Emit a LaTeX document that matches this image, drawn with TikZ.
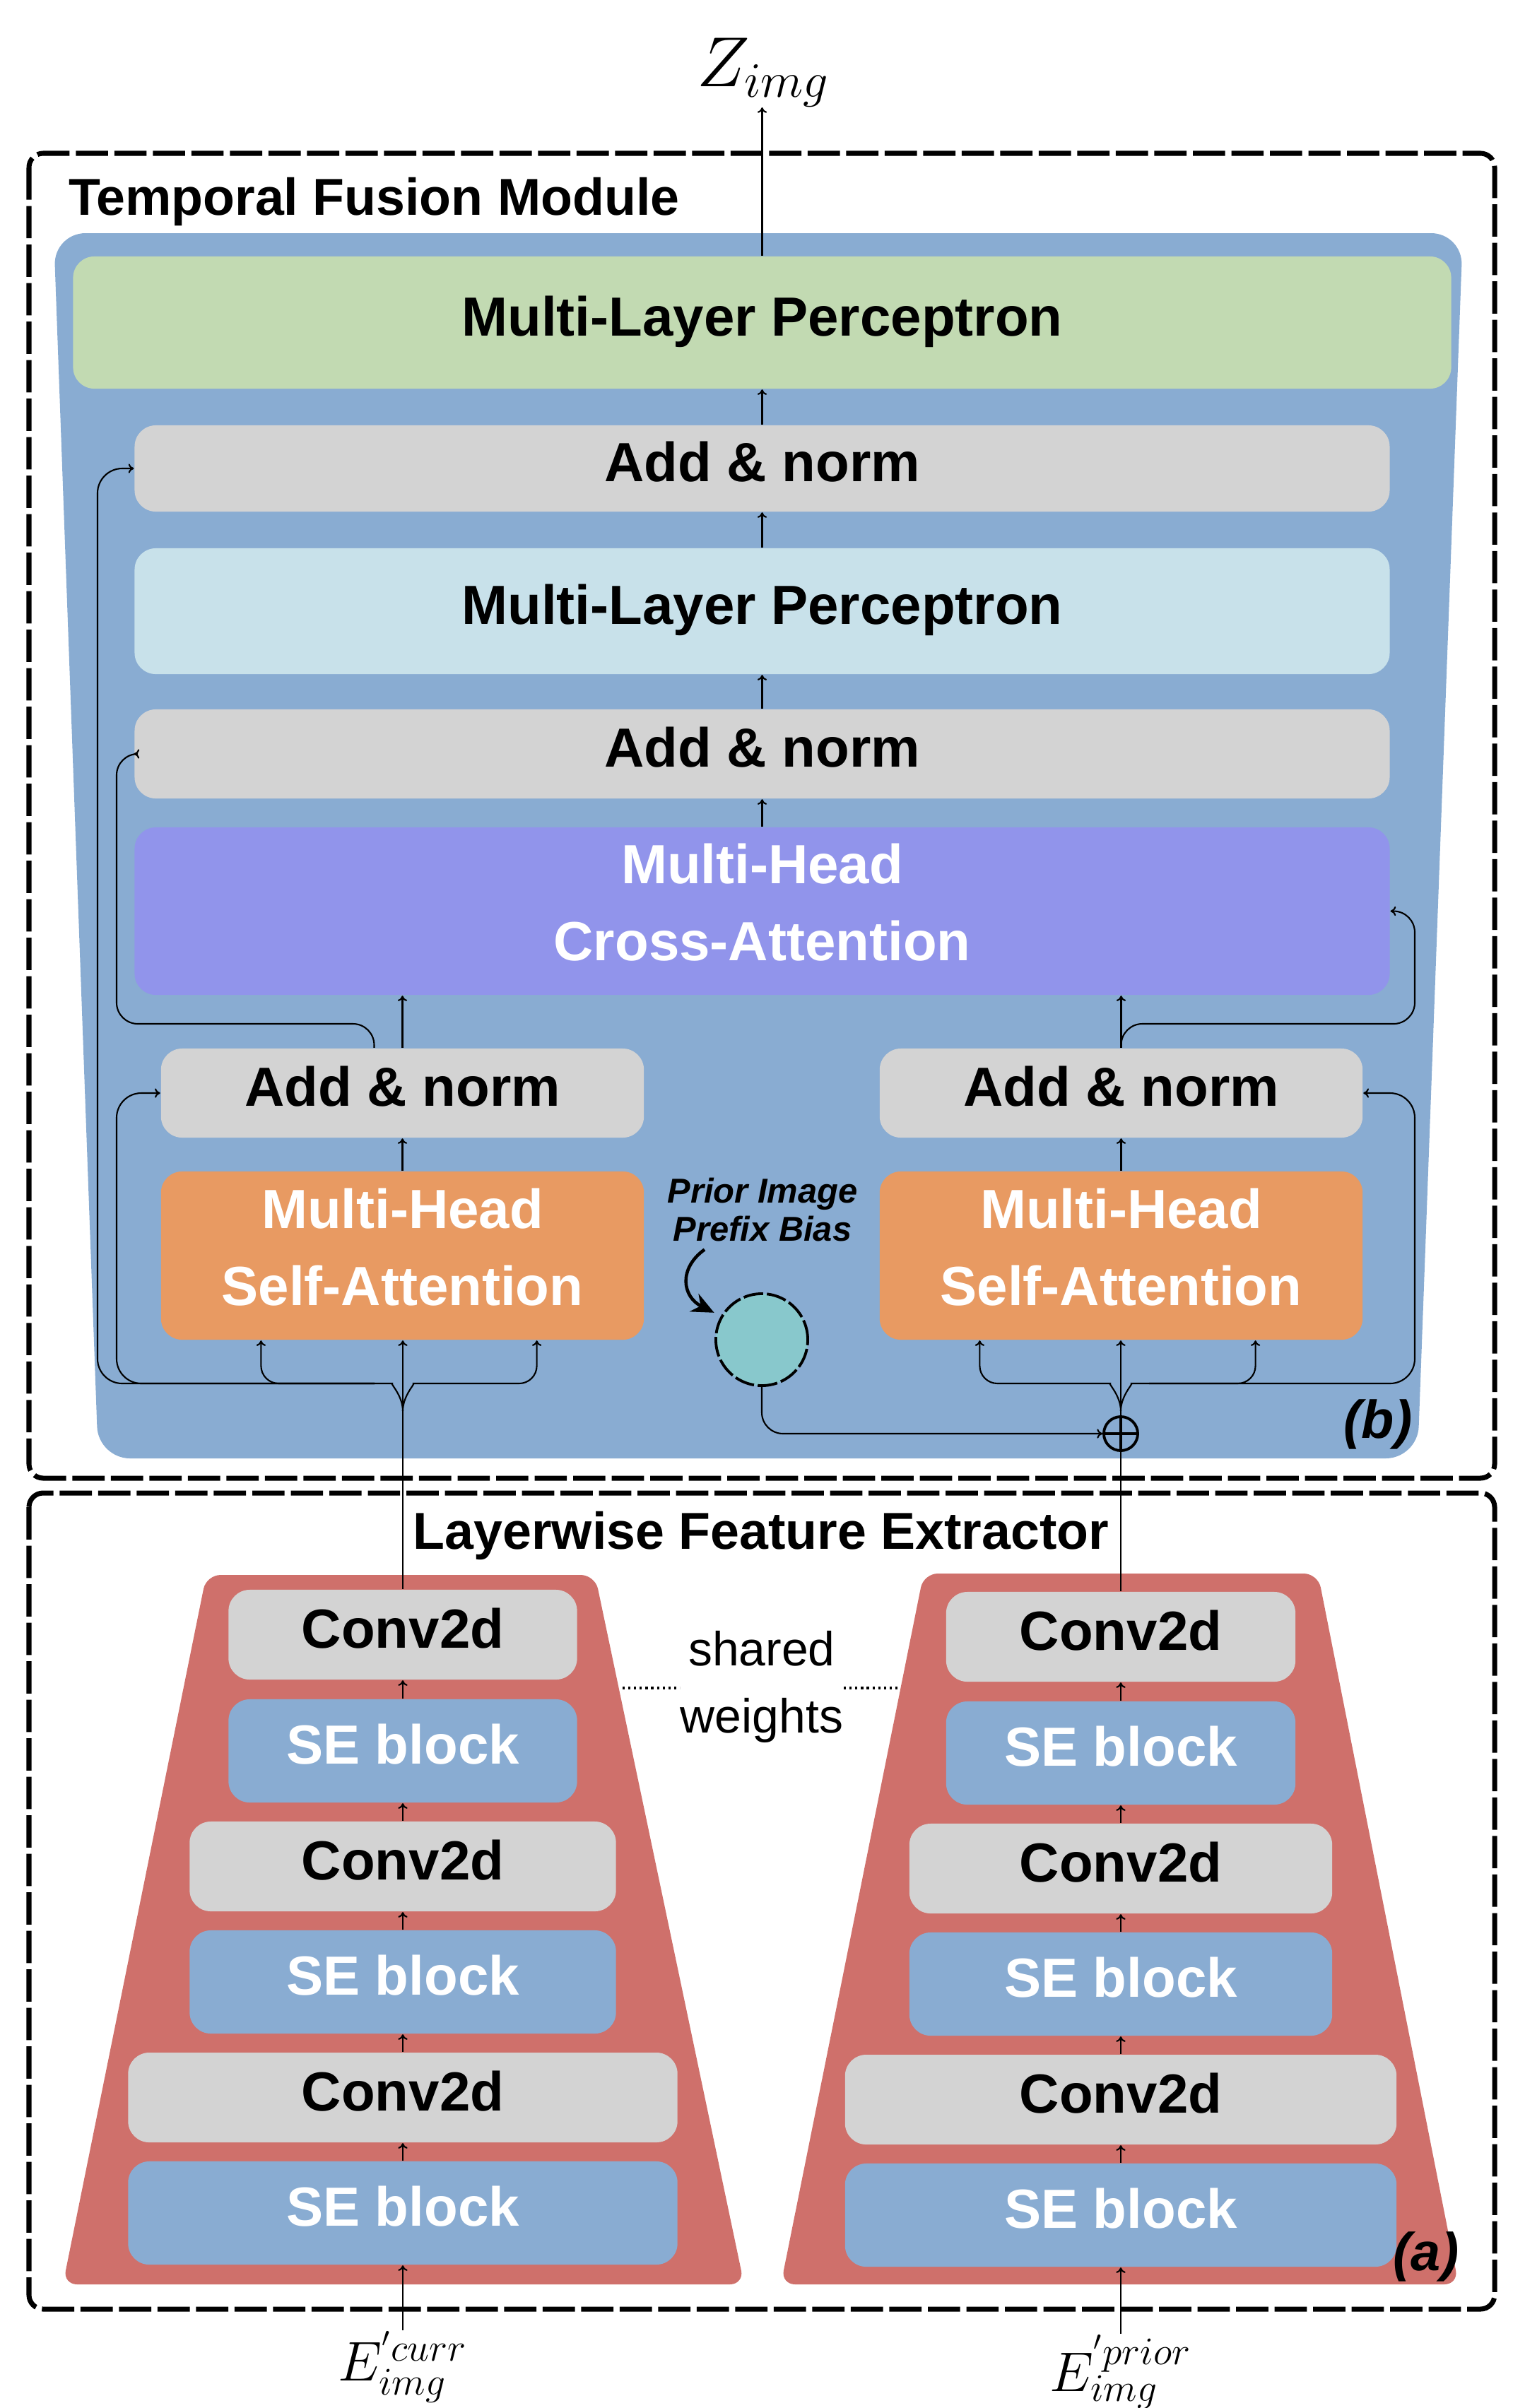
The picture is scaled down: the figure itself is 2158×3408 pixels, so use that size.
\RequirePackage{fix-cm}
\documentclass[tikz,border=0pt]{standalone}
\usepackage{fontspec}
\newfontfamily\hfont{Liberation Sans}
\usetikzlibrary{arrows.meta}

\definecolor{panelblue}{HTML}{89ACD2}
\definecolor{mlpgreen}{HTML}{C2DAB2}
\definecolor{normgray}{HTML}{D3D3D3}
\definecolor{mlpblue}{HTML}{C8E1EA}
\definecolor{crosspurple}{HTML}{9194EB}
\definecolor{selforange}{HTML}{E89A62}
\definecolor{prefixteal}{HTML}{88C8CC}
\definecolor{extractred}{HTML}{CF706B}

\newcommand{\lowfix}{\rule[-0.32em]{0pt}{1em}}

\begin{document}
\begin{tikzpicture}[x=0.01cm, y=-0.01cm, line width=0.6pt, >={To[length=2.2pt,width=3.8pt]},
	blk/.style = {rounded corners=0.3cm, inner sep=0pt, align=center, font=\hfont\bfseries\fontsize{22.2}{31}\selectfont},
	oneline/.style = {text height=16pt, text depth=5.3pt},
	normbox/.style = {blk, oneline, fill=normgray},
	convbox/.style = {blk, oneline, fill=normgray, minimum height=1.27cm},
	sebox/.style = {blk, oneline, fill=panelblue, text=white, minimum height=1.46cm},
	attbox/.style = {blk, text=white},
	modbox/.style = {line width=2pt, dash pattern=on 13pt off 2.5pt, rounded corners=0.2cm},
	modtitle/.style = {font=\hfont\bfseries\fontsize{20.9}{25}\selectfont, inner sep=0pt},
	parttag/.style = {font=\hfont\bfseries\itshape\fontsize{21.5}{25}\selectfont, inner sep=0pt},
	shareline/.style = {line width=0.9pt, dash pattern=on 0.9pt off 1.4pt},
	pointer/.style = {line width=1.3pt, -{Stealth[length=9pt,width=8pt]}, shorten >=3pt}]
	
	\useasboundingbox (0,0) rectangle (2158,3408);
	
	% module frames and backgrounds
	\draw[modbox] (41,217) rectangle (2115,2092);
	\draw[modbox] (41,2113) rectangle (2115,3268);
	\fill[panelblue, rounded corners=0.45cm] (76,330) -- (2070,330) -- (2006,2064) -- (139,2064) -- cycle;
	\fill[extractred, rounded corners=0.2cm] (292,2229) -- (842,2229) -- (1053,3233) -- (89,3233) -- cycle;
	\fill[extractred, rounded corners=0.2cm] (1307,2227) -- (1865,2227) -- (2064,3233) -- (1105,3233) -- cycle;
	
	\node[modtitle, anchor=base west] (tfmtitle) at (96,304) {Temporal Fusion Module};
	\node[modtitle, anchor=base] (lfetitle) at (1077,2192) {Layerwise Feature Extractor};
	\node[parttag] (tagb) at (1950,2016) {(b)};
	\node[parttag] (taga) at (2018,3194) {(a)};
	
	% temporal fusion module
	\node[blk, oneline, fill=mlpgreen, minimum width=19.49cm, minimum height=1.87cm] (mlpout) at (1078.5,456.5) {Multi-Layer Perceptron};
	\node[normbox, minimum width=17.75cm, minimum height=1.22cm] (an1) at (1078.5,663) {Add \& norm};
	\node[blk, oneline, fill=mlpblue, minimum width=17.75cm, minimum height=1.78cm] (mlp) at (1078.5,865) {Multi-Layer Perceptron};
	\node[normbox, minimum width=17.75cm, minimum height=1.26cm] (an2) at (1078.5,1067) {Add \& norm};
	\node[attbox, fill=crosspurple, minimum width=17.75cm, minimum height=2.37cm] (xattn) at (1078.5,1289.5) {Multi-Head\\Cross-Attention\lowfix};
	
	\node[normbox, minimum width=6.83cm, minimum height=1.26cm] (anl) at (569.5,1547) {Add \& norm};
	\node[normbox, minimum width=6.83cm, minimum height=1.26cm] (anr) at (1586.5,1547) {Add \& norm};
	\node[attbox, fill=selforange, minimum width=6.83cm, minimum height=2.38cm] (sal) at (569.5,1777) {Multi-Head\\Self-Attention\lowfix};
	\node[attbox, fill=selforange, minimum width=6.83cm, minimum height=2.38cm] (sar) at (1586.5,1777) {Multi-Head\\Self-Attention\lowfix};
	
	\node[font=\hfont\bfseries\itshape\fontsize{13.9}{15.6}\selectfont, align=center, inner sep=0pt] (prior) at (1079,1712) {Prior Image\\Prefix Bias};
	\node[circle, draw, fill=prefixteal, line width=1.1pt, dash pattern=on 8pt off 1.5pt, minimum size=1.3cm, inner sep=0pt] (prefix) at (1078,1896) {};
	\node[circle, draw, line width=1.1pt, minimum size=0.48cm, inner sep=0pt] (plus) at (1586,2029) {};
	\draw[line width=1.1pt] (plus.north) -- (plus.south) (plus.west) -- (plus.east);
	
	\node[font=\fontsize{28.5}{32}\selectfont, anchor=south, inner sep=0pt] (zimg) at (1080,152) {$Z_{img}$};
	
	% layerwise feature extractor
	\node[convbox, minimum width=4.93cm] (conv1l) at (570,2313.5) {Conv2d};
	\node[sebox, minimum width=4.93cm] (se1l) at (570,2478) {SE block};
	\node[convbox, minimum width=6.03cm] (conv2l) at (570,2641.5) {Conv2d};
	\node[sebox, minimum width=6.03cm] (se2l) at (570,2805) {SE block};
	\node[convbox, minimum width=7.77cm] (conv3l) at (570,2968.5) {Conv2d};
	\node[sebox, minimum width=7.77cm] (se3l) at (570,3132) {SE block};
	
	\node[convbox, minimum width=4.94cm] (conv1r) at (1586,2316.5) {Conv2d};
	\node[sebox, minimum width=4.94cm] (se1r) at (1586,2481) {SE block};
	\node[convbox, minimum width=5.98cm] (conv2r) at (1586,2644.5) {Conv2d};
	\node[sebox, minimum width=5.98cm] (se2r) at (1586,2808) {SE block};
	\node[convbox, minimum width=7.80cm] (conv3r) at (1586,2971.5) {Conv2d};
	\node[sebox, minimum width=7.80cm] (se3r) at (1586,3135) {SE block};
	
	\node[font=\hfont\fontsize{19.3}{27}\selectfont, align=center, inner sep=0pt] (shared) at (1078,2387) {shared\\weights};
	\coordinate (lshare) at (881,2389);
	\coordinate (rshare) at (1273,2389);
	
	\node[font=\fontsize{22.5}{26}\selectfont, anchor=north, inner sep=0pt] (ecurr) at (570,3298) {$E^{'curr}_{img}$};
	\node[font=\fontsize{22.5}{26}\selectfont, anchor=north, inner sep=0pt] (eprior) at (1586,3303) {$E^{'prior}_{img}$};
	
	\coordinate (lfork) at (570,1997);
	\coordinate (lbusw) at (530,1958);
	\coordinate (lbuse) at (610,1958);
	\coordinate (rfork) at (1586,1997);
	\coordinate (rbusw) at (1546,1958);
	\coordinate (rbuse) at (1626,1958);
	
	% main column
	\draw[->] (mlpout.north) -- (mlpout.north |- zimg.south);
	\draw[->] (an1.north) -- (mlpout.south);
	\draw[->] (mlp.north) -- (an1.south);
	\draw[->] (an2.north) -- (mlp.south);
	\draw[->] (xattn.north) -- (an2.south);
	\draw[->] (anl.north) -- (anl.north |- xattn.south);
	\draw[->] (anr.north) -- (anr.north |- xattn.south);
	\draw[->] (sal.north) -- (anl.south);
	\draw[->] (sar.north) -- (anr.south);
	
	% current image branch
	\draw[->] (conv1l.north) -- (conv1l.north |- sal.south);
	\draw[->, rounded corners=0.25cm] (lfork) .. controls (570,1975) and (552,1958) .. (lbusw) -| ([xshift=-2cm]sal.south);
	\draw[->, rounded corners=0.25cm] (lfork) .. controls (570,1975) and (588,1958) .. (lbuse) -| ([xshift=1.9cm]sal.south);
	\draw[->, rounded corners=0.35cm] (lbusw) -- (138,1958) |- (an1.west);
	\draw[->, rounded corners=0.35cm] (lbusw) -- (165,1958) |- (anl.west);
	\draw[->, rounded corners=0.3cm] ([xshift=-0.4cm]anl.north) |- (165,1449) |- (an2.west);
	
	% prior image branch
	\draw (conv1r.north) -- (plus.south);
	\draw[->] (plus.north) -- (plus.north |- sar.south);
	\draw[->, rounded corners=0.25cm] (rfork) .. controls (1586,1975) and (1568,1958) .. (rbusw) -| ([xshift=-2cm]sar.south);
	\draw[->, rounded corners=0.25cm] (rfork) .. controls (1586,1975) and (1604,1958) .. (rbuse) -| ([xshift=1.9cm]sar.south);
	\draw[->, rounded corners=0.35cm] (rbuse) -- (2002,1958) |- (anr.east);
	\draw[->, rounded corners=0.3cm] (anr.north) |- (2002,1449) |- (xattn.east);
	\draw[->, rounded corners=0.3cm] (prefix.south) |- (plus.west);
	\draw[pointer] ([shift={(-82,10)}]prior.south) .. controls (960,1795) and (965,1835) .. (prefix.150);
	
	% extractor columns
	\draw[->] (se1l.north) -- (conv1l.south);
	\draw[->] (conv2l.north) -- (se1l.south);
	\draw[->] (se2l.north) -- (conv2l.south);
	\draw[->] (conv3l.north) -- (se2l.south);
	\draw[->] (se3l.north) -- (conv3l.south);
	\draw[->] (ecurr.north) -- (se3l.south);
	
	\draw[->] (se1r.north) -- (conv1r.south);
	\draw[->] (conv2r.north) -- (se1r.south);
	\draw[->] (se2r.north) -- (conv2r.south);
	\draw[->] (conv3r.north) -- (se2r.south);
	\draw[->] (se3r.north) -- (conv3r.south);
	\draw[->] (eprior.north) -- (se3r.south);
	
	\draw[shareline] (lshare) -- (lshare -| shared.west);
	\draw[shareline] (shared.east |- rshare) -- (rshare);
	
\end{tikzpicture}
\end{document}
